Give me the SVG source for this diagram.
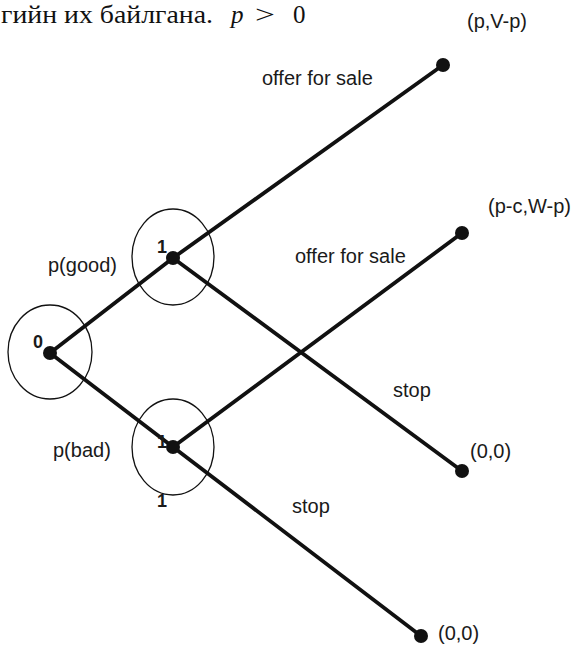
<svg xmlns="http://www.w3.org/2000/svg" width="576" height="645" viewBox="0 0 576 645">
<style>
.lbl{font-family:"Liberation Sans",Arial,sans-serif;font-size:20px;fill:#1a1a1a}
.num{font-family:"Liberation Sans",Arial,sans-serif;font-size:18px;font-weight:bold;fill:#1a1a1a}
.edge{stroke:#111;stroke-width:3.8;stroke-linecap:round;fill:none}
.ring{stroke:#111;stroke-width:1.3;fill:none}
.dot{fill:#111}
.hdr{font-family:"Liberation Serif","Times New Roman",serif;font-size:25px;fill:#111}
</style>
<rect width="576" height="645" fill="#fff"/>
<g id="header">
<text class="hdr" x="1" y="23" textLength="212" lengthAdjust="spacingAndGlyphs">гийн их байлгана.</text>
<text class="hdr" x="231" y="23" font-style="italic">p</text>
<text class="hdr" x="255" y="23" font-size="30" textLength="20" lengthAdjust="spacingAndGlyphs">&gt;</text>
<text class="hdr" x="293" y="23">0</text>
</g>
<g id="connectors">
<line class="edge" x1="50" y1="353" x2="173" y2="258"/>
<line class="edge" x1="50" y1="353" x2="173" y2="447"/>
<line class="edge" x1="173" y1="258" x2="443" y2="65"/>
<line class="edge" x1="173" y1="258" x2="462" y2="471"/>
<line class="edge" x1="173" y1="447" x2="462" y2="233"/>
<line class="edge" x1="173" y1="447" x2="421" y2="636"/>
</g>
<g id="node0">
<ellipse class="ring" cx="50" cy="352" rx="42" ry="47"/>
<circle class="dot" cx="50" cy="353" r="7"/>
<text class="num" x="33" y="348">0</text>
</g>
<g id="node1top">
<ellipse class="ring" cx="173" cy="257" rx="41" ry="48"/>
<circle class="dot" cx="173" cy="258" r="7"/>
<text class="num" x="157" y="253">1</text>
</g>
<g id="node1bottom">
<ellipse class="ring" cx="173" cy="447" rx="41" ry="48"/>
<circle class="dot" cx="173" cy="447" r="7"/>
<text class="num" x="157" y="448">1</text>
<text class="num" x="157" y="507">1</text>
</g>
<g id="term1">
<circle class="dot" cx="443" cy="65" r="7"/>
<text class="lbl" x="467" y="28">(p,V-p)</text>
</g>
<g id="term2">
<circle class="dot" cx="462" cy="233" r="7"/>
<text class="lbl" x="488" y="213">(p-c,W-p)</text>
</g>
<g id="term3">
<circle class="dot" cx="462" cy="471" r="7"/>
<text class="lbl" x="470" y="458">(0,0)</text>
</g>
<g id="term4">
<circle class="dot" cx="421" cy="636" r="7"/>
<text class="lbl" x="438" y="640">(0,0)</text>
</g>
<g id="edge-labels">
<text class="lbl" x="262" y="85">offer for sale</text>
<text class="lbl" x="295" y="263">offer for sale</text>
<text class="lbl" x="48" y="272">p(good)</text>
<text class="lbl" x="53" y="457">p(bad)</text>
<text class="lbl" x="393" y="397">stop</text>
<text class="lbl" x="292" y="513">stop</text>
</g>
</svg>
